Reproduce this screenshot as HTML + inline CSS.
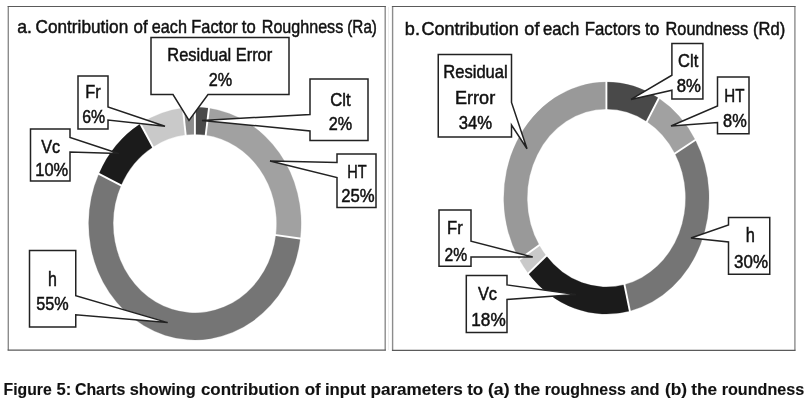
<!DOCTYPE html>
<html><head><meta charset="utf-8"><title>Figure 5</title>
<style>
html,body{margin:0;padding:0;background:#fff;}
body{width:808px;height:404px;overflow:hidden;font-family:"Liberation Sans",sans-serif;}
svg{display:block}
svg text{font-family:"Liberation Sans",sans-serif;fill:#111;stroke:#111;stroke-width:0.5px;}
svg{filter:blur(0.35px);}
</style></head><body>
<svg width="808" height="404" viewBox="0 0 808 404">
<rect x="0" y="0" width="808" height="404" fill="#fff"/>
<rect x="8.1" y="6.5" width="376.9" height="343.7" fill="#fff" stroke="none"/>
<line x1="8.3" y1="6.5" x2="8.3" y2="350.2" stroke="#8c8c8c" stroke-width="1.4"/>
<line x1="385.2" y1="6.5" x2="385.2" y2="350.2" stroke="#8c8c8c" stroke-width="1.4"/>
<line x1="7.6000000000000005" y1="6.5" x2="385.9" y2="6.5" stroke="#5a5a5a" stroke-width="1.1"/>
<line x1="7.6000000000000005" y1="350.2" x2="385.9" y2="350.2" stroke="#5a5a5a" stroke-width="1.3"/>
<line x1="392.6" y1="6.5" x2="392.6" y2="350.3" stroke="#8c8c8c" stroke-width="1.4"/>
<line x1="794.9" y1="6.5" x2="794.9" y2="350.3" stroke="#8c8c8c" stroke-width="1.4"/>
<line x1="391.90000000000003" y1="6.5" x2="795.6" y2="6.5" stroke="#5a5a5a" stroke-width="1.1"/>
<line x1="391.90000000000003" y1="350.3" x2="795.6" y2="350.3" stroke="#5a5a5a" stroke-width="1.3"/>
<line x1="388.5" y1="7" x2="388.5" y2="350" stroke="#efefef" stroke-width="1"/>
<path d="M194.90,107.30 A106.2,116.3 0 0 1 208.95,108.32 L205.71,135.08 A81.75,89.3 0 0 0 194.90,134.30 Z" fill="#494949" stroke="#494949" stroke-width="0.3"/>
<path d="M208.95,108.32 A106.2,116.3 0 0 1 300.22,238.58 L275.97,235.10 A81.75,89.3 0 0 0 205.71,135.08 Z" fill="#a1a1a1" stroke="#a1a1a1" stroke-width="0.3"/>
<path d="M300.22,238.58 A106.2,116.3 0 1 1 98.89,173.90 L120.99,185.44 A81.75,89.3 0 1 0 275.97,235.10 Z" fill="#757575" stroke="#757575" stroke-width="0.3"/>
<path d="M98.89,173.90 A106.2,116.3 0 0 1 140.36,123.81 L152.92,146.97 A81.75,89.3 0 0 0 120.99,185.44 Z" fill="#1b1b1b" stroke="#1b1b1b" stroke-width="0.3"/>
<path d="M140.36,123.81 A106.2,116.3 0 0 1 182.88,108.05 L185.65,134.87 A81.75,89.3 0 0 0 152.92,146.97 Z" fill="#c9c9c9" stroke="#c9c9c9" stroke-width="0.3"/>
<path d="M182.88,108.05 A106.2,116.3 0 0 1 194.90,107.30 L194.90,134.30 A81.75,89.3 0 0 0 185.65,134.87 Z" fill="#8c8c8c" stroke="#8c8c8c" stroke-width="0.3"/>
<line x1="194.90" y1="103.81" x2="194.90" y2="137.87" stroke="#fff" stroke-width="1.9"/>
<line x1="209.37" y1="104.86" x2="205.28" y2="138.63" stroke="#fff" stroke-width="1.9"/>
<line x1="303.37" y1="239.03" x2="272.73" y2="234.64" stroke="#fff" stroke-width="1.9"/>
<line x1="96.01" y1="172.41" x2="123.95" y2="186.96" stroke="#fff" stroke-width="1.9"/>
<line x1="138.73" y1="120.81" x2="154.60" y2="150.04" stroke="#fff" stroke-width="1.9"/>
<line x1="182.52" y1="104.58" x2="186.02" y2="138.42" stroke="#fff" stroke-width="1.9"/>
<path d="M606.40,82.05 A102.6,116 0 0 1 658.78,98.31 L646.83,121.52 A79.2,89.0 0 0 0 606.40,109.05 Z" fill="#494949" stroke="#494949" stroke-width="0.3"/>
<path d="M658.78,98.31 A102.6,116 0 0 1 695.25,140.05 L674.99,153.55 A79.2,89.0 0 0 0 646.83,121.52 Z" fill="#a1a1a1" stroke="#a1a1a1" stroke-width="0.3"/>
<path d="M695.25,140.05 A102.6,116 0 0 1 629.83,310.99 L624.49,284.70 A79.2,89.0 0 0 0 674.99,153.55 Z" fill="#757575" stroke="#757575" stroke-width="0.3"/>
<path d="M629.83,310.99 A102.6,116 0 0 1 528.38,273.39 L546.18,255.85 A79.2,89.0 0 0 0 624.49,284.70 Z" fill="#1b1b1b" stroke="#1b1b1b" stroke-width="0.3"/>
<path d="M528.38,273.39 A102.6,116 0 0 1 519.39,259.52 L539.23,245.21 A79.2,89.0 0 0 0 546.18,255.85 Z" fill="#c9c9c9" stroke="#c9c9c9" stroke-width="0.3"/>
<path d="M519.39,259.52 A102.6,116 0 0 1 606.40,82.05 L606.40,109.05 A79.2,89.0 0 0 0 539.23,245.21 Z" fill="#999999" stroke="#999999" stroke-width="0.3"/>
<line x1="606.40" y1="78.57" x2="606.40" y2="112.61" stroke="#fff" stroke-width="1.9"/>
<line x1="660.35" y1="95.31" x2="645.22" y2="124.58" stroke="#fff" stroke-width="1.9"/>
<line x1="697.92" y1="138.31" x2="672.25" y2="155.33" stroke="#fff" stroke-width="1.9"/>
<line x1="630.53" y1="314.37" x2="623.76" y2="281.23" stroke="#fff" stroke-width="1.9"/>
<line x1="526.04" y1="275.65" x2="548.58" y2="253.54" stroke="#fff" stroke-width="1.9"/>
<line x1="516.78" y1="261.36" x2="541.92" y2="243.33" stroke="#fff" stroke-width="1.9"/>
<polygon points="78.00,76.00 108.00,76.00 108.00,107.00 165.00,126.25 108.00,120.00 108.00,129.00 78.00,129.00" fill="#fff" stroke="#222" stroke-width="1.5" stroke-linejoin="miter"/>
<polygon points="30.50,129.00 70.00,129.00 70.00,137.50 118.50,153.50 70.00,152.00 70.00,181.00 30.50,181.00" fill="#fff" stroke="#222" stroke-width="1.5" stroke-linejoin="miter"/>
<polygon points="29.50,250.50 75.75,250.50 75.75,295.60 167.70,322.60 75.75,314.70 75.75,327.00 29.50,327.00" fill="#fff" stroke="#222" stroke-width="1.5" stroke-linejoin="miter"/>
<polygon points="151.00,37.50 289.00,37.50 289.00,94.50 208.00,94.50 189.00,120.40 173.00,94.50 151.00,94.50" fill="#fff" stroke="#222" stroke-width="1.5" stroke-linejoin="miter"/>
<polygon points="310.00,79.00 368.00,79.00 368.00,140.50 310.00,140.50 310.00,131.00 202.00,120.40 310.00,114.50" fill="#fff" stroke="#222" stroke-width="1.5" stroke-linejoin="miter"/>
<polygon points="337.00,154.00 376.00,154.00 376.00,207.50 337.00,207.50 337.00,177.50 270.00,161.00 337.00,162.50" fill="#fff" stroke="#222" stroke-width="1.5" stroke-linejoin="miter"/>
<polygon points="671.90,43.50 702.90,43.50 702.90,98.90 671.90,98.90 671.90,90.30 631.00,99.40 671.90,75.20" fill="#fff" stroke="#222" stroke-width="1.5" stroke-linejoin="miter"/>
<polygon points="717.50,77.00 749.00,77.00 749.00,133.75 717.50,133.75 717.50,122.50 671.00,126.00 717.50,106.00" fill="#fff" stroke="#222" stroke-width="1.5" stroke-linejoin="miter"/>
<polygon points="728.50,217.50 769.75,217.50 769.75,274.25 728.50,274.25 728.50,242.00 691.00,238.00 728.50,225.00" fill="#fff" stroke="#222" stroke-width="1.5" stroke-linejoin="miter"/>
<polygon points="466.30,275.60 507.00,275.60 507.00,284.90 576.00,294.50 507.00,299.40 507.00,332.40 466.30,332.40" fill="#fff" stroke="#222" stroke-width="1.5" stroke-linejoin="miter"/>
<polygon points="439.00,210.00 471.00,210.00 471.00,241.25 532.75,257.00 471.00,257.00 471.00,266.25 439.00,266.25" fill="#fff" stroke="#222" stroke-width="1.5" stroke-linejoin="miter"/>
<polygon points="438.25,54.50 511.50,54.50 511.50,102.50 527.00,148.75 511.50,125.00 511.50,137.00 438.25,137.00" fill="#fff" stroke="#222" stroke-width="1.5" stroke-linejoin="miter"/>
<g>
<text x="17.30" y="32.50" font-size="19" textLength="14.65" lengthAdjust="spacingAndGlyphs">a.</text>
<text x="35.55" y="32.50" font-size="19" textLength="92.65" lengthAdjust="spacingAndGlyphs">Contribution</text>
<text x="133.55" y="32.50" font-size="19" textLength="14.15" lengthAdjust="spacingAndGlyphs">of</text>
<text x="151.80" y="32.50" font-size="19" textLength="35.15" lengthAdjust="spacingAndGlyphs">each</text>
<text x="191.30" y="32.50" font-size="19" textLength="46.40" lengthAdjust="spacingAndGlyphs">Factor</text>
<text x="241.80" y="32.50" font-size="19" textLength="13.90" lengthAdjust="spacingAndGlyphs">to</text>
<text x="261.80" y="32.50" font-size="19" textLength="81.40" lengthAdjust="spacingAndGlyphs">Roughness</text>
<text x="347.30" y="32.50" font-size="19" textLength="29.65" lengthAdjust="spacingAndGlyphs">(Ra)</text>
<text x="167.30" y="61.25" font-size="18.5" textLength="104.90" lengthAdjust="spacingAndGlyphs">Residual Error</text>
<text x="208.80" y="85.75" font-size="18.5" textLength="23.40" lengthAdjust="spacingAndGlyphs">2%</text>
<text x="330.30" y="106.00" font-size="18.5" textLength="20.40" lengthAdjust="spacingAndGlyphs">Clt</text>
<text x="328.80" y="130.00" font-size="18.5" textLength="23.40" lengthAdjust="spacingAndGlyphs">2%</text>
<text x="347.30" y="177.50" font-size="18.5" textLength="19.40" lengthAdjust="spacingAndGlyphs">HT</text>
<text x="341.30" y="202.00" font-size="18.5" textLength="33.40" lengthAdjust="spacingAndGlyphs">25%</text>
<text x="48.05" y="285.50" font-size="19.6" textLength="8.90" lengthAdjust="spacingAndGlyphs">h</text>
<text x="36.30" y="310.00" font-size="18.5" textLength="32.40" lengthAdjust="spacingAndGlyphs">55%</text>
<text x="41.30" y="152.50" font-size="18.5" textLength="18.90" lengthAdjust="spacingAndGlyphs">Vc</text>
<text x="35.30" y="176.00" font-size="18.5" textLength="32.90" lengthAdjust="spacingAndGlyphs">10%</text>
<text x="85.30" y="98.00" font-size="18.5" textLength="15.40" lengthAdjust="spacingAndGlyphs">Fr</text>
<text x="82.30" y="122.50" font-size="18.5" textLength="22.90" lengthAdjust="spacingAndGlyphs">6%</text>
<text x="404.80" y="35.00" font-size="18.8" textLength="15.15" lengthAdjust="spacingAndGlyphs">b.</text>
<text x="421.55" y="35.00" font-size="18.8" textLength="97.15" lengthAdjust="spacingAndGlyphs">Contribution</text>
<text x="524.30" y="35.00" font-size="18.8" textLength="15.15" lengthAdjust="spacingAndGlyphs">of</text>
<text x="543.05" y="35.00" font-size="18.8" textLength="36.15" lengthAdjust="spacingAndGlyphs">each</text>
<text x="584.80" y="35.00" font-size="18.8" textLength="55.90" lengthAdjust="spacingAndGlyphs">Factors</text>
<text x="645.05" y="35.00" font-size="18.8" textLength="14.40" lengthAdjust="spacingAndGlyphs">to</text>
<text x="665.55" y="35.00" font-size="18.8" textLength="82.65" lengthAdjust="spacingAndGlyphs">Roundness</text>
<text x="753.05" y="35.00" font-size="18.8" textLength="32.15" lengthAdjust="spacingAndGlyphs">(Rd)</text>
<text x="678.10" y="67.00" font-size="18.5" textLength="20.20" lengthAdjust="spacingAndGlyphs">Clt</text>
<text x="676.70" y="92.40" font-size="18.5" textLength="24.20" lengthAdjust="spacingAndGlyphs">8%</text>
<text x="724.30" y="102.00" font-size="18.5" textLength="20.15" lengthAdjust="spacingAndGlyphs">HT</text>
<text x="723.05" y="127.00" font-size="18.5" textLength="23.65" lengthAdjust="spacingAndGlyphs">8%</text>
<text x="745.80" y="242.00" font-size="19.6" textLength="9.15" lengthAdjust="spacingAndGlyphs">h</text>
<text x="734.05" y="268.00" font-size="18.5" textLength="33.90" lengthAdjust="spacingAndGlyphs">30%</text>
<text x="477.90" y="300.20" font-size="18.5" textLength="19.20" lengthAdjust="spacingAndGlyphs">Vc</text>
<text x="471.30" y="326.00" font-size="18.5" textLength="34.40" lengthAdjust="spacingAndGlyphs">18%</text>
<text x="447.05" y="233.75" font-size="18.5" textLength="15.65" lengthAdjust="spacingAndGlyphs">Fr</text>
<text x="444.55" y="260.50" font-size="18.5" textLength="22.65" lengthAdjust="spacingAndGlyphs">2%</text>
<text x="443.30" y="77.50" font-size="18.5" textLength="64.40" lengthAdjust="spacingAndGlyphs">Residual</text>
<text x="455.05" y="103.75" font-size="18.5" textLength="40.15" lengthAdjust="spacingAndGlyphs">Error</text>
<text x="458.80" y="128.75" font-size="18.5" textLength="33.40" lengthAdjust="spacingAndGlyphs">34%</text>
<text x="3.60" y="394.75" font-size="15.8" style="font-weight:700;stroke:#111;stroke-width:0.12px" textLength="48.20" lengthAdjust="spacingAndGlyphs">Figure</text>
<text x="56.40" y="394.75" font-size="15.8" style="font-weight:700;stroke:#111;stroke-width:0.12px" textLength="14.80" lengthAdjust="spacingAndGlyphs">5:</text>
<text x="74.95" y="394.75" font-size="15.8" style="font-weight:700;stroke:#111;stroke-width:0.12px" textLength="50.35" lengthAdjust="spacingAndGlyphs">Charts</text>
<text x="129.70" y="394.75" font-size="15.8" style="font-weight:700;stroke:#111;stroke-width:0.12px" textLength="66.10" lengthAdjust="spacingAndGlyphs">showing</text>
<text x="200.95" y="394.75" font-size="15.8" style="font-weight:700;stroke:#111;stroke-width:0.12px" textLength="98.60" lengthAdjust="spacingAndGlyphs">contribution</text>
<text x="304.70" y="394.75" font-size="15.8" style="font-weight:700;stroke:#111;stroke-width:0.12px" textLength="16.10" lengthAdjust="spacingAndGlyphs">of</text>
<text x="324.95" y="394.75" font-size="15.8" style="font-weight:700;stroke:#111;stroke-width:0.12px" textLength="40.85" lengthAdjust="spacingAndGlyphs">input</text>
<text x="370.45" y="394.75" font-size="15.8" style="font-weight:700;stroke:#111;stroke-width:0.12px" textLength="92.35" lengthAdjust="spacingAndGlyphs">parameters</text>
<text x="467.20" y="394.75" font-size="15.8" style="font-weight:700;stroke:#111;stroke-width:0.12px" textLength="16.10" lengthAdjust="spacingAndGlyphs">to</text>
<text x="487.95" y="394.75" font-size="15.8" style="font-weight:700;stroke:#111;stroke-width:0.12px" textLength="21.60" lengthAdjust="spacingAndGlyphs">(a)</text>
<text x="514.20" y="394.75" font-size="15.8" style="font-weight:700;stroke:#111;stroke-width:0.12px" textLength="26.10" lengthAdjust="spacingAndGlyphs">the</text>
<text x="544.70" y="394.75" font-size="15.8" style="font-weight:700;stroke:#111;stroke-width:0.12px" textLength="81.10" lengthAdjust="spacingAndGlyphs">roughness</text>
<text x="630.45" y="394.75" font-size="15.8" style="font-weight:700;stroke:#111;stroke-width:0.12px" textLength="29.10" lengthAdjust="spacingAndGlyphs">and</text>
<text x="664.95" y="394.75" font-size="15.8" style="font-weight:700;stroke:#111;stroke-width:0.12px" textLength="22.10" lengthAdjust="spacingAndGlyphs">(b)</text>
<text x="691.20" y="394.75" font-size="15.8" style="font-weight:700;stroke:#111;stroke-width:0.12px" textLength="25.85" lengthAdjust="spacingAndGlyphs">the</text>
<text x="721.70" y="394.75" font-size="15.8" style="font-weight:700;stroke:#111;stroke-width:0.12px" textLength="82.60" lengthAdjust="spacingAndGlyphs">roundness</text>
</g>
</svg>
</body></html>
